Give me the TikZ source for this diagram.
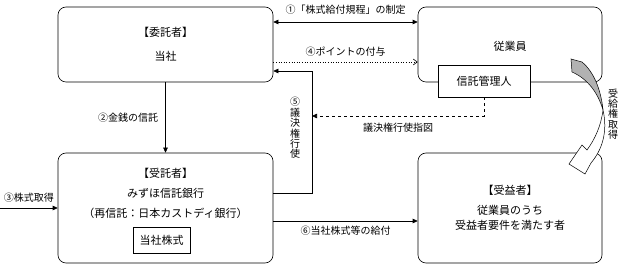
\documentclass[tikz,border=0pt]{standalone}
\usepackage{fontspec}
\setmainfont{Noto Sans CJK JP}
\usepackage{tikz}
\usetikzlibrary{positioning,arrows.meta}

\begin{document}
\begin{tikzpicture}[x=1pt,y=-1pt,
  party/.style={draw, rounded corners=8pt, line width=0.6pt, align=center, font=\fontsize{11}{20}\selectfont},
  inbox/.style={draw, fill=white, line width=0.6pt, inner sep=0pt, font=\fontsize{11}{13}\selectfont},
  lbl/.style={inner sep=1pt, font=\fontsize{10}{12}\selectfont},
  vlbl/.style={inner sep=0pt, align=center, font=\fontsize{10}{10.4}\selectfont},
  flow/.style={-{Triangle[length=5pt,width=4.5pt]}, line width=0.6pt}]
\useasboundingbox (0,0) rectangle (624,264);
% parties
\node[party, minimum width=215pt, minimum height=75pt] (entrust) at (165.5,44.5) {【委託者】\\[4pt]当社};
\node[party, minimum width=184pt, minimum height=75pt] (staff) at (510,44.5) {};
\node[lbl, font=\fontsize{11}{13}\selectfont] (stafftxt) at (510,46) {従業員};
\node[inbox, minimum width=92pt, minimum height=32pt] (admin) at (484,81) {信託管理人};
\node[party, minimum width=215pt, minimum height=110pt] (trustee) at (165.5,208) {};
\node[lbl, align=center, font=\fontsize{11}{20}\selectfont] (trusteetxt) at (165.5,193) {【受託者】\\みずほ信託銀行\\（再信託：日本カストディ銀行）};
\node[inbox, minimum width=57pt, minimum height=26pt] (shares) at (161.5,240) {当社株式};
\node[party, minimum width=184pt, minimum height=110pt, font=\fontsize{11}{15}\selectfont] (benef) at (510,208) {【受益者】\\[5pt]従業員のうち\\受益者要件を満たす者};
\coordinate (buy) at (0,208);
\coordinate (turn5) at (312,71);
\coordinate (vote) at (312,116);

% connectors
\draw[{Triangle[length=5pt,width=4.5pt]}-{Triangle[length=5pt,width=4.5pt]}, line width=0.6pt]
  ([yshift=22.5pt]entrust.east) -- node[lbl, above=6pt] (lbl1) {①「株式給付規程」の制定} ([yshift=22.5pt]staff.west);
\draw[dotted, line width=0.6pt, -{Straight Barb[length=4pt,width=6pt]}]
  ([yshift=-17.5pt]entrust.east) -- node[lbl, above=4pt] (lbl4) {④ポイントの付与} ([yshift=-17.5pt]staff.west);
\draw[flow] (entrust.south) -- node[lbl, left=6pt] (lbl2) {②金銭の信託} (trustee.north);
\draw[flow] (buy) -- node[lbl, above=4pt] (lbl3) {③株式取得} (trustee.west);
\draw[flow] ([yshift=15pt]trustee.east) -| (turn5) -- ([yshift=-26.5pt]entrust.east);
\node[vlbl] (lbl5) at (295,128) {⑤\\議\\決\\権\\行\\使};
\draw[flow, dashed] (admin.south) |- node[lbl, below=6pt, pos=0.75] (lblvote) {議決権行使指図} (vote);
\draw[flow] ([yshift=-13pt]trustee.east) -- node[lbl, below=4pt] (lbl6) {⑥当社株式等の給付} ([yshift=-13pt]benef.west);

% curved arrow
\draw[line width=0.5pt, fill=gray!60] (571,59) -- (582,62) .. controls (594,72) and (601,90) .. (603,110)
  .. controls (598,93) and (588,79) .. (572,72) -- cycle;
\draw[line width=0.5pt, fill=white] (603,110) .. controls (608,132) and (602,150) .. (591,163) -- (585,174) -- (569,164)
  -- (582,145) -- (587,150) .. controls (595,139) and (601,126) .. (603,110) -- cycle;
\node[vlbl] (lblright) at (613,114) {受\\給\\権\\取\\得};
\end{tikzpicture}
\end{document}
